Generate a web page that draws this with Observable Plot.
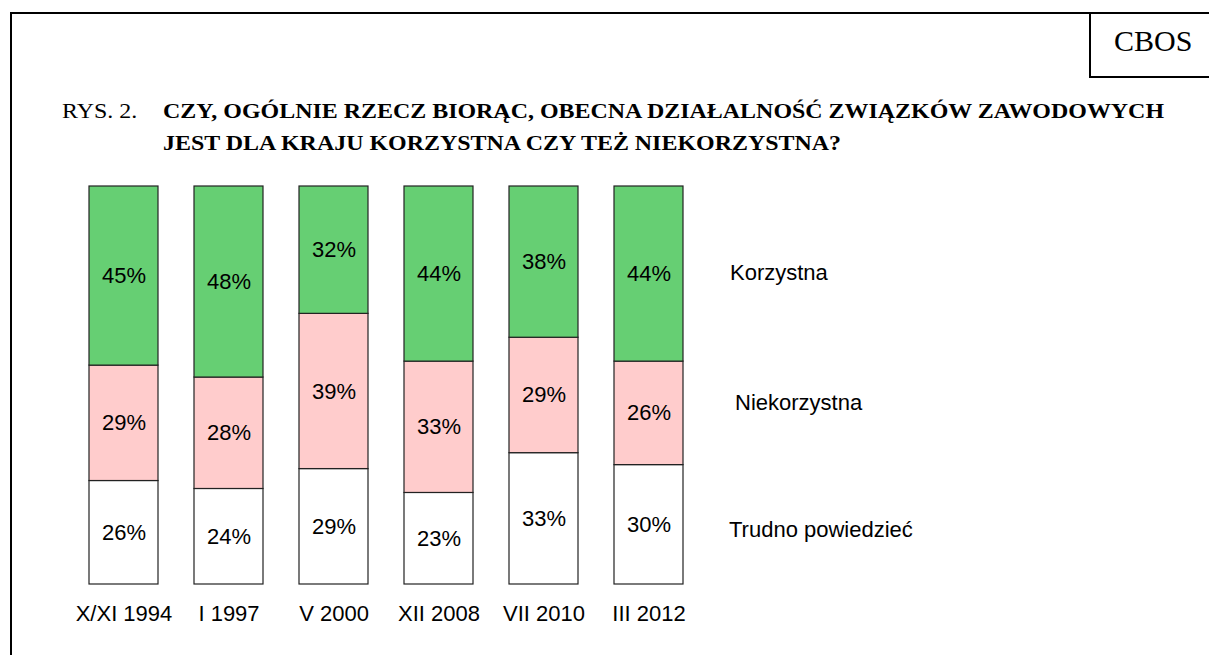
<!DOCTYPE html>
<html>
<head>
<meta charset="utf-8">
<script src="https://cdn.jsdelivr.net/npm/d3@7"></script>
<script src="https://cdn.jsdelivr.net/npm/@observablehq/plot@0.6"></script>
<style>
  html, body { margin: 0; padding: 0; background: #fff; overflow: hidden; }
  #wrap { position: relative; width: 1209px; height: 655px; overflow: hidden; }
  #frame { position: absolute; left: 10px; top: 12px; width: 1400px; height: 800px;
           border-left: 2px solid #000; border-top: 2px solid #000; }
  #cbos { position: absolute; left: 1089px; top: 12px; width: 200px; height: 64px;
          border-left: 2px solid #000; border-bottom: 2px solid #000;
          font-family: "Liberation Serif", "Times New Roman", serif; font-size: 30px; }
  #cbos span { position: absolute; left: 23px; top: 14px; line-height: 1; }
  .t { position: absolute; font-family: "Liberation Serif", "Times New Roman", serif;
       font-size: 21px; line-height: 1; white-space: nowrap; color: #000;
       transform: scaleX(1.14); transform-origin: 0 0; }
  #rys { left: 62px; top: 101px; }
  #l1 { left: 163px; top: 101px; font-weight: bold; }
  #l2 { left: 163px; top: 133px; font-weight: bold; }
  #chart { position: absolute; left: 0; top: 0; }
</style>
</head>
<body>
<div id="wrap">
  <div id="frame"></div>
  <div id="cbos"><span>CBOS</span></div>
  <div class="t" id="rys">RYS. 2.</div>
  <div class="t" id="l1">CZY, OGÓLNIE RZECZ BIORĄC, OBECNA DZIAŁALNOŚĆ ZWIĄZKÓW ZAWODOWYCH</div>
  <div class="t" id="l2">JEST DLA KRAJU KORZYSTNA CZY TEŻ NIEKORZYSTNA?</div>
  <div id="chart"></div>
</div>
<script>
// ---- data ----
const dates = ["X/XI 1994", "I 1997", "V 2000", "XII 2008", "VII 2010", "III 2012"];
const categories = ["Trudno powiedzieć", "Niekorzystna", "Korzystna"]; // bottom -> top
const korzystna    = [45, 48, 32, 44, 38, 44];
const niekorzystna = [29, 28, 39, 33, 29, 26];
const trudno       = [26, 24, 29, 23, 33, 30];

// ---- table for Plot ----
const series = { "Korzystna": korzystna, "Niekorzystna": niekorzystna, "Trudno powiedzieć": trudno };
const data = [];
dates.forEach((d, i) => {
  categories.forEach(c => data.push({ date: d, cat: c, v: series[c][i] }));
});
const lastDate = dates[dates.length - 1];
const lastData = data.filter(d => d.date === lastDate);

const colors = ["#ffffff", "#ffcccc", "#66cf73"];
const stackOpts = { x: "date", y: "v", z: "cat", order: categories };

// legend label offsets (style)
const legendOffsets = {
  "Korzystna": { dx: 81, dy: -1 },
  "Niekorzystna": { dx: 86, dy: -10 },
  "Trudno powiedzieć": { dx: 80, dy: 5 }
};

const plot = Plot.plot({
  width: 1209,
  height: 655,
  marginTop: 186,
  marginBottom: 71,
  marginLeft: 87,
  marginRight: 524.5,
  style: { fontFamily: "'Liberation Sans', Arial, sans-serif", fontSize: "22px", background: "transparent", color: "#000" },
  x: { domain: dates, paddingInner: 0.347, paddingOuter: 0, label: null },
  y: { domain: [0, 100], axis: null },
  color: { domain: categories, range: colors },
  marks: [
    Plot.barY(data, Plot.stackY({ ...stackOpts, fill: "cat", stroke: "#222", strokeWidth: 1.2, inset: 0 })),
    Plot.text(data, Plot.stackY({ ...stackOpts, text: d => d.v + "%", fill: "#000", fontSize: 22 })),
    ...categories.map(c => Plot.text(lastData, Plot.stackY({
      ...stackOpts, text: d => (d.cat === c ? d.cat : ""), textAnchor: "start",
      dx: legendOffsets[c].dx, dy: legendOffsets[c].dy, fill: "#000", fontSize: 22
    }))),
    Plot.axisX({ tickSize: 0, tickPadding: 21, fontSize: 22, label: null, fill: "#000" })
  ]
});
document.getElementById("chart").appendChild(plot);
</script>
</body>
</html>
